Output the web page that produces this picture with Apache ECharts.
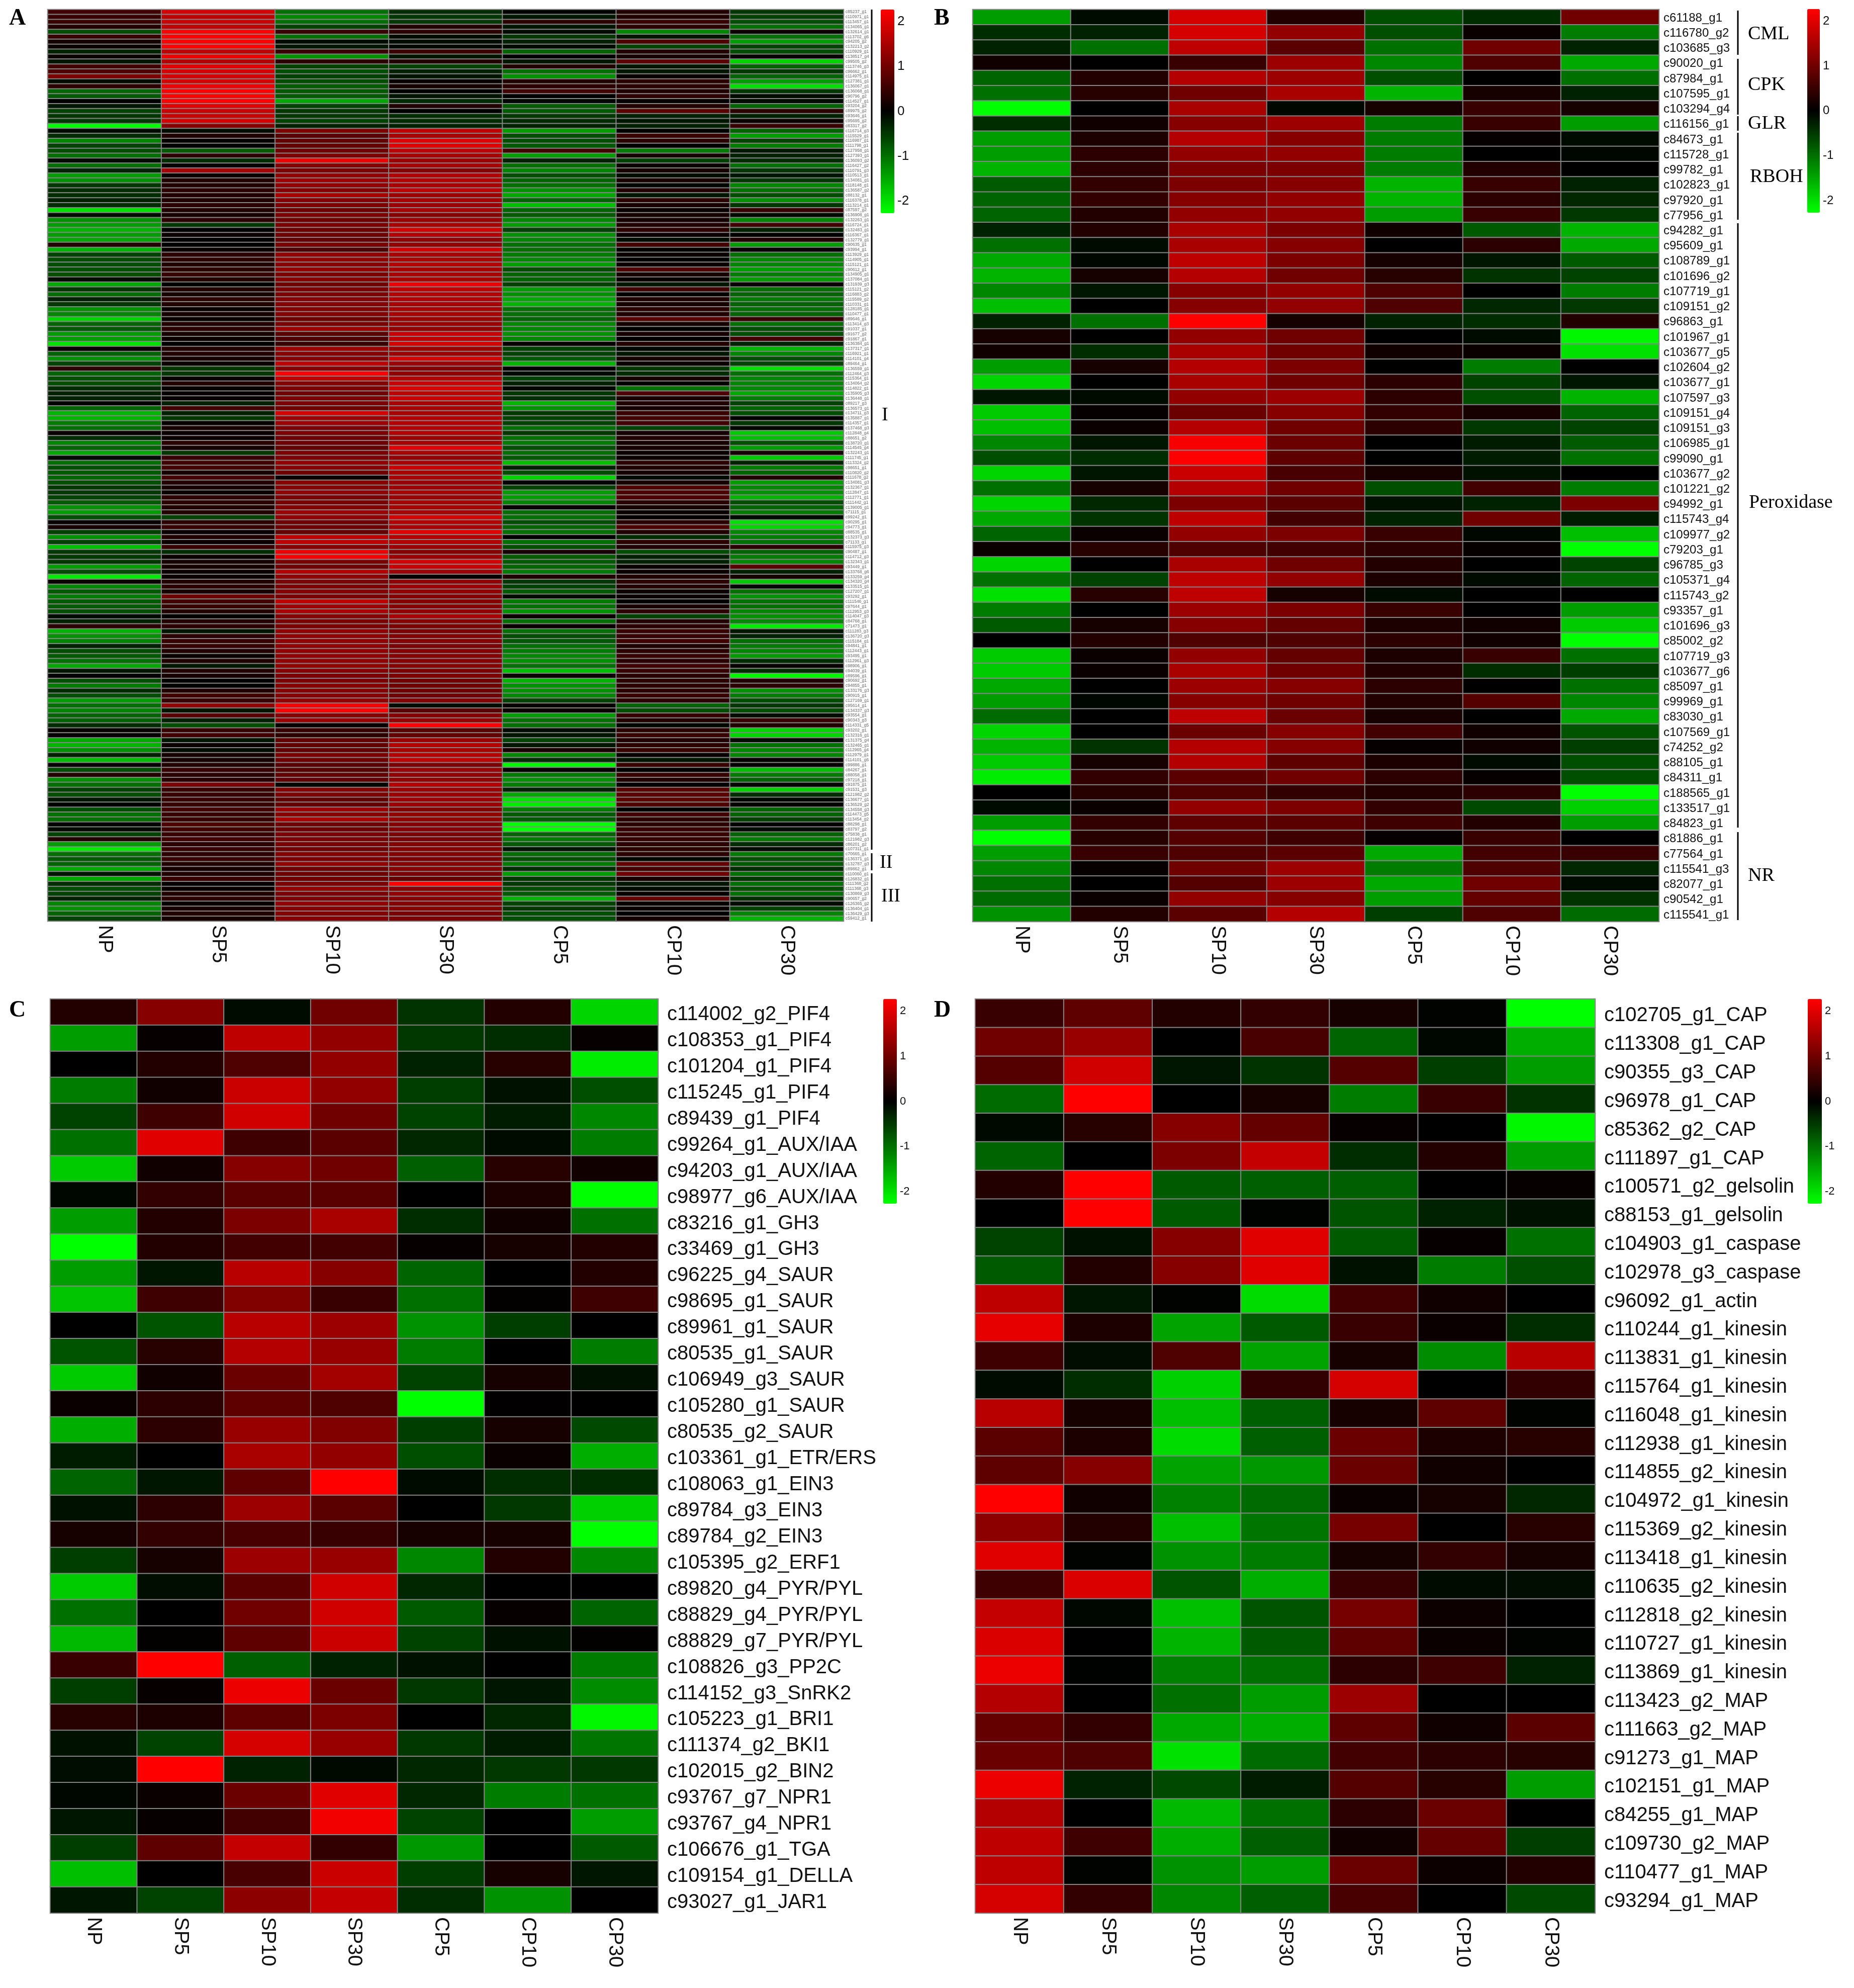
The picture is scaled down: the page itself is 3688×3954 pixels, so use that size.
<!DOCTYPE html>
<html><head><meta charset="utf-8"><style>html,body{margin:0;padding:0;background:#fff}#c{width:3688px;height:3954px}</style>
<script src="https://cdn.jsdelivr.net/npm/echarts@6/dist/echarts.min.js"></script></head>
<body><div id="c"></div><script>
const samples=['NP','SP5','SP10','SP30','CP5','CP10','CP30'];
const colorTicks=[-2,-1,0,1,2];
const genesA=['c85237_g1','c110971_g1','c113457_g1','c134065_g1','c132614_g1','c113702_g6','c94205_g2','c132213_g2','c110929_g1','c138517_g4',
'c99505_g2','c113746_g3','c96662_g1','c114975_g1','c127381_g1','c136067_g1','c136068_g1','c90796_g2','c114527_g1','c93204_g2',
'c89975_g2','c93646_g1','c95695_g2','c83317_g2','c116714_g3','c115529_g1','c116987_g1','c111798_g1','c127958_g1','c127393_g1',
'c136093_g2','c116427_g2','c110791_g3','c110513_g1','c134081_g1','c118148_g1','c136587_g2','c88132_g1','c116378_g1','c113214_g1',
'c87597_g2','c136908_g1','c132263_g1','c116724_g1','c132483_g1','c116367_g1','c132779_g1','c90635_g1','c93994_g1','c113929_g1',
'c114905_g1','c115121_g1','c90612_g1','c134905_g1','c137084_g1','c131939_g3','c115121_g2','c116883_g2','c115589_g2','c110331_g1',
'c128185_g1','c110477_g1','c89646_g1','c113414_g3','c91037_g1','c91677_g2','c91867_g1','c136384_g1','c137317_g1','c116921_g1',
'c114101_g4','c89464_g1','c136559_g1','c112464_g3','c115364_g1','c134064_g2','c114822_g1','c135905_g3','c136448_g1','c89217_g3',
'c136573_g1','c134711_g3','c135887_g1','c114357_g1','c137468_g3','c112848_g4','c88651_g2','c138720_g1','c114545_g4','c132243_g1',
'c111745_g1','c113324_g2','c98651_g1','c110820_g2','c111678_g2','c134081_g3','c132367_g1','c112847_g1','c112771_g1','c111442_g1',
'c139005_g1','c71115_g1','c99242_g1','c90295_g1','c94773_g1','c88535_g1','c132373_g3','c71133_g1','c115975_g3','c90487_g1',
'c114712_g3','c132343_g1','c93449_g1','c133768_g6','c133259_g4','c134320_g4','c133515_g1','c127207_g1','c93292_g1','c111546_g1',
'c97644_g1','c112953_g3','c114047_g3','c84768_g1','c71473_g1','c111283_g3','c136720_g3','c115184_g1','c94841_g1','c112443_g1',
'c93495_g1','c112961_g3','c98906_g1','c94039_g1','c89596_g1','c90692_g1','c94855_g1','c133176_g3','c90915_g1','c127169_g1',
'c95614_g1','c134337_g3','c93554_g1','c90343_g3','c114331_g5','c93202_g1','c132316_g1','c131375_g4','c132465_g1','c112965_g4',
'c112979_g1','c114101_g6','c99886_g1','c84267_g1','c88058_g1','c97218_g1','c91875_g1','c91531_g3','c121982_g2','c136677_g1',
'c136529_g2','c134558_g3','c114473_g5','c113454_g2','c88298_g1','c83797_g2','c75838_g1','c121982_g3','c86201_g2','c107311_g1',
'c70665_g1','c136371_g1','c132787_g3','c89862_g1','c110060_g1','c126832_g1','c111368_g2','c111368_g3','c130869_g3','c90657_g2',
'c126365_g2','c136404_g1','c136429_g3','c59412_g1'];
const genesB=['c61188_g1','c116780_g2','c103685_g3','c90020_g1','c87984_g1','c107595_g1','c103294_g4','c116156_g1','c84673_g1','c115728_g1','c99782_g1','c102823_g1','c97920_g1','c77956_g1','c94282_g1','c95609_g1','c108789_g1','c101696_g2','c107719_g1','c109151_g2','c96863_g1','c101967_g1','c103677_g5','c102604_g2','c103677_g1','c107597_g3','c109151_g4','c109151_g3','c106985_g1','c99090_g1','c103677_g2','c101221_g2','c94992_g1','c115743_g4','c109977_g2','c79203_g1','c96785_g3','c105371_g4','c115743_g2','c93357_g1','c101696_g3','c85002_g2','c107719_g3','c103677_g6','c85097_g1','c99969_g1','c83030_g1','c107569_g1','c74252_g2','c88105_g1','c84311_g1','c188565_g1','c133517_g1','c84823_g1','c81886_g1','c77564_g1','c115541_g3','c82077_g1','c90542_g1','c115541_g1'];
const genesC=['c114002_g2_PIF4','c108353_g1_PIF4','c101204_g1_PIF4','c115245_g1_PIF4','c89439_g1_PIF4','c99264_g1_AUX/IAA','c94203_g1_AUX/IAA','c98977_g6_AUX/IAA','c83216_g1_GH3','c33469_g1_GH3','c96225_g4_SAUR','c98695_g1_SAUR','c89961_g1_SAUR','c80535_g1_SAUR','c106949_g3_SAUR','c105280_g1_SAUR','c80535_g2_SAUR','c103361_g1_ETR/ERS','c108063_g1_EIN3','c89784_g3_EIN3','c89784_g2_EIN3','c105395_g2_ERF1','c89820_g4_PYR/PYL','c88829_g4_PYR/PYL','c88829_g7_PYR/PYL','c108826_g3_PP2C','c114152_g3_SnRK2','c105223_g1_BRI1','c111374_g2_BKI1','c102015_g2_BIN2','c93767_g7_NPR1','c93767_g4_NPR1','c106676_g1_TGA','c109154_g1_DELLA','c93027_g1_JAR1'];
const genesD=['c102705_g1_CAP','c113308_g1_CAP','c90355_g3_CAP','c96978_g1_CAP','c85362_g2_CAP','c111897_g1_CAP','c100571_g2_gelsolin','c88153_g1_gelsolin','c104903_g1_caspase','c102978_g3_caspase','c96092_g1_actin','c110244_g1_kinesin','c113831_g1_kinesin','c115764_g1_kinesin','c116048_g1_kinesin','c112938_g1_kinesin','c114855_g2_kinesin','c104972_g1_kinesin','c115369_g2_kinesin','c113418_g1_kinesin','c110635_g2_kinesin','c112818_g2_kinesin','c110727_g1_kinesin','c113869_g1_kinesin','c113423_g2_MAP','c111663_g2_MAP','c91273_g1_MAP','c102151_g1_MAP','c84255_g1_MAP','c109730_g2_MAP','c110477_g1_MAP','c93294_g1_MAP'];
const valuesA=[[.6,1.9,-1,-.4,0,.3,-.5],[.5,1.7,-1.2,-.5,-.2,.3,-.6],[.5,1.8,-1,-.5,.4,.5,-.7],[.3,1.7,-.6,.3,-.2,.4,-1],[-.7,2.27,.5,.4,-.1,-1.2,.1],[.5,2.27,-1,-.1,-.5,-.2,-1],[.2,2.27,-.1,-.1,-.3,.7,-1.4],[.1,2.27,-.2,-.05,-.1,-.6,-.6],[-.3,1.7,.5,.5,-.9,.3,-.7],[.1,2.1,-1.3,-.2,0,.2,.05],
[-.2,1.6,.4,.3,-.2,.8,-1.9],[.6,2,-.6,-.6,.3,-.2,-.9],[.7,1.9,-.7,-.3,-1,-.2,-.5],[1.1,1.9,-.6,-.2,-1.3,.1,-.9],[-.1,1.9,-.7,.05,.3,.4,-1.4],[.4,2.1,-.8,.2,.4,.4,-2],[-.9,2.27,-.8,0,.6,.3,-.5],[-.8,2.27,-.8,-.2,0,.4,-.1],[0,2.27,-1.5,-.4,-.05,.05,-.1],[-.2,2,-.6,.3,-.8,.3,-.9],
[-.6,1.8,-.5,0,-.8,.8,.4],[-.5,1.8,-.5,-.4,-.5,-.3,-.3],[-.5,1.9,-.6,-.4,-.4,-.2,.1],[-2.27,1.2,-.3,-.3,-.3,-.3,.5],[-.1,-.1,1.1,1.7,-1.4,0,-.9],[-.4,.3,.8,1.5,-.7,.5,-1.4],[-1.2,.05,.9,2,-.7,.4,-.6],[-.6,0,.9,2,-.8,0,-1.1],[-.7,-.8,1,1.7,.6,-1.1,-.2],[-1,.4,1.1,1.5,-1.4,.2,-.3],
[-.1,-.4,2.1,1.4,-.3,-.6,-.4],[-1,.05,1.2,1.5,-1,.1,-1],[-.3,1.5,1.1,1.2,-1.2,.2,-.5],[-1.4,.1,1.3,1.6,-.7,-.1,-.2],[-1.3,.3,1.4,1.6,-.9,.2,-.5],[-.5,.3,1.3,1.5,-1,-.05,-1.2],[-.4,.4,1.2,1.7,-1.3,.3,-1],[-.4,.3,1.5,1.4,-1.5,-.2,-.7],[-.3,.3,1.2,1.5,-.9,.4,-1.3],[-.4,.4,1.1,1.4,-1.7,.2,-.5],
[-2,.3,1,1.5,-.9,.1,.5],[-.1,.2,1.1,1.2,-.8,.2,-.1],[-1.3,.4,1,1.4,-1.2,.2,-1.2],[-1.4,-.5,1.1,1.5,-1.4,.3,.6],[-1.6,0,1,1.9,-.6,.4,-.3],[-1.4,.1,1,1.6,-1.3,.1,0],[-1.5,0,.9,1.3,-1.2,-.1,.3],[.3,0,1.1,1.3,-1,.6,-1.4],[-1.6,.1,.7,1.9,-1,0,.05],[-.6,.4,1.3,1.5,-1.1,.1,-1],
[-.7,.4,1.3,1.5,-1.2,0,-1.2],[-.7,.3,1.2,1.6,-1.4,.1,-1.2],[-.7,.4,1.3,1.5,-.7,.7,-1.4],[-.7,.5,1.1,1.5,-.9,.2,-1.1],[-.1,.3,1.2,1.5,-.9,.1,-1.4],[-1.5,0,1,2.1,-.6,-.2,.05],[-.5,.3,1.1,1.7,-1.4,.6,-1],[-1,.2,1.1,1.6,-1.3,0,-.9],[-.3,.4,1.2,1.6,-1.5,.3,-1.1],[-.5,.3,1.2,1.5,-1.6,.2,-.9],
[-1.3,.1,1.2,1.5,-1,.4,-1],[-1.2,.2,1.2,1.5,-1,.3,-.9],[-1.9,.1,1,1.4,-.9,.8,.5],[-.9,.3,1.1,1.4,-1.2,.2,-1],[-.8,.4,1.4,1.3,-1.2,0,-.7],[-1.4,.2,.8,1.8,-1.3,.2,-.7],[-1.4,.1,.7,1.7,-1.2,0,.6],[-2,0,.5,1.9,.05,.3,-.3],[.05,.3,1.4,1.4,-.6,-.05,-1.6],[-.9,.3,1.2,1.4,-.6,-.2,-1.2],
[-1.3,.2,1.2,1.9,-.8,.2,-.7],[-.6,.1,1.7,1.4,-1.6,.1,-.6],[.4,-.5,1.2,1.2,0,-.5,-2],[-.9,-.5,2.27,1.3,-.1,-.4,-1],[-.7,.05,1.7,1.6,-.6,.2,-1.2],[-.7,.3,1.2,1.8,-.3,0,-1.2],[-.4,.05,1.1,1.95,-.05,-1,-1.2],[-.3,.05,1,1.7,-.5,.7,-1.5],[-.3,.05,1.1,1.8,-.4,.2,-1.1],[0,-.3,1.1,1.5,-1.6,.3,-.6],
[-.9,.6,1,1.5,-1.3,.2,-.9],[-1.6,-.3,1.9,1.5,-.5,.5,-.7],[-1.6,-.5,1.4,1.6,-.6,.6,0],[-1.1,.05,1.4,1.6,-.6,.6,-.5],[-1,.2,1.1,1.6,-1,-.6,-.05],[.1,.1,1.1,1.6,-.5,.2,-1.8],[-.4,.1,1,1.4,-1,.3,-1.7],[-1.2,.4,1,1.5,-1.1,.2,-.7],[-.9,.2,.9,2,-.7,.2,-1.4],[-1.5,-.5,1.1,1.5,-1,.1,.2],
[-.1,.5,1.1,1.3,-.8,.1,-1.8],[-1,.6,1.3,1.5,-1.7,.4,-.3],[-.7,.6,1.2,1.8,-.3,.3,-1.1],[-.8,.2,1,1.5,-.7,.2,-.9],[-.9,.6,.1,1.5,-1.9,-.1,.3],[-.7,.3,1.2,1.4,0,.2,-1.4],[-.5,.2,1.2,1.4,-.6,.7,-1.2],[-.5,.1,1.3,1.5,-1.4,.7,-1.3],[-.6,.4,1.1,1.4,-1.4,.7,-1.6],[-.8,.4,1.1,1.5,-1.2,.4,-.7],
[-1.3,.3,1.2,1.5,.05,.2,-.9],[-1.4,.3,1.4,1.5,-1,.1,-1.1],[-.7,-.6,1.3,1.9,-1,.05,-.1],[.05,.4,1,1.6,-.7,.4,-2],[.2,.5,1,1.5,-.9,.7,-1.9],[-.6,.1,.9,2,-1,.3,-1.2],[-1.3,.3,1.7,1.6,0,-.4,-1.1],[-.6,.1,1.7,1.6,-1,.4,-1],[-1.7,.5,1.2,1.4,-.7,.3,.4],[-.5,-.4,2.1,1.2,.2,-.7,-.9],
[-.5,.1,2.2,1.4,-.8,-.3,-1.1],[-.5,.2,1.1,1.9,-.8,-.3,-1.2],[-1.4,.2,1,1.8,-.9,.1,.8],[-.7,.1,1.6,1.4,-1.1,.1,-.3],[-2.1,.1,1.3,.05,.3,.3,.2],[.1,.3,1.1,1.3,-.5,.4,-1.8],[-1.2,.4,1.1,1.4,-.6,.3,-.05],[-.8,.2,1.2,1.3,-.8,.1,-1],[-1.1,1,1.1,1.2,-.1,.1,-1.3],[-.8,.6,1.7,1.2,-1.1,0,-1],
[-.8,.5,1.4,1.2,-1,.2,-1],[-.7,.3,1.5,1.3,-1.3,.4,-1.2],[-.1,0,1.2,1.5,.1,-.6,-1.3],[-.3,.3,1.1,1.2,-1,.3,-1.2],[.4,.4,1.1,1.1,.1,.4,-2.1],[-1.6,-.2,1.3,1.1,-1,.5,-.2],[-1.3,.4,1.3,1.2,-.7,.5,-.3],[-1.2,.5,1.3,1.2,-.8,.6,-1],[-.3,.5,1.3,1.1,-1,.3,-1.1],[-.7,.3,1.3,1.2,-1.1,.4,-1.2],
[-.8,.1,1.3,1.2,-1.2,.5,-1.4],[-1,.3,1.3,1.2,-1.3,.4,-.4],[-1.5,-.2,1.3,1.2,-1,.6,.05],[-.2,.3,1.2,1.1,-1.7,.5,-.4],[0,.2,1.1,1.1,.1,.4,-2.2],[-.7,0,1.1,1,-1.6,.4,.3],[-1.1,0,1.2,1,-1.3,.4,.4],[-.4,.3,1.2,1,-1.3,.4,-1.3],[-.7,.6,1.2,1,-1.2,.5,-1.1],[-1.4,.5,1.3,1.2,-.6,.4,-.7],
[-1,1.3,2.2,-.1,.05,-.9,-.5],[-1.2,-.2,2.27,.8,.1,-.7,-.7],[-.9,.8,1.2,1.2,-1.4,.5,-.1],[-.9,-.3,1.4,1.3,-1,.3,.5],[-.4,-.7,.05,2.27,-1,-.05,.3],[.05,.5,.5,.8,-.1,.4,-1.9],[.05,.6,.4,.9,-.2,.5,-1.9],[-1.5,-.2,.9,1.4,-.6,.3,-.1],[-1.6,.1,.9,1.6,-.2,.4,-1],[-1.3,-.1,.9,1.5,.2,.5,-1.2],
[-.3,.2,1.1,1.6,-1.2,.05,-1.2],[-1.7,.2,1,1.7,-.4,-.2,.05],[.05,.3,.8,1.1,-2.2,.5,.05],[-.7,.5,.8,1.4,.05,0,-1.7],[.3,.4,.9,1.3,-1.1,.5,-1.1],[-1.3,.4,.9,1.3,-1.3,.3,-.9],[-1,1.1,-.05,1.6,-1.1,.02,-.05],[-.6,.5,1.2,1.4,-.3,.8,-1.9],[-.7,.5,1.1,1.4,-1.5,.8,-.4],[-.2,.5,.9,1.4,-2,.8,-.05],
[0,.5,.9,1.4,-2.1,.7,0],[-.7,.6,1.4,1.2,-1.1,0,-.9],[-1,.5,1.2,1.3,-.8,.6,-.9],[-1,.5,1.5,1.3,-.8,.4,-.6],[0,.7,1,1.2,-2.27,.4,0],[-.1,.6,1,1.2,-2.27,.5,-.1],[-.6,.5,1.1,1.1,-.9,.5,-.9],[.3,.6,1.1,1.1,-1.1,.5,-1.1],[-1.4,.4,1.1,1.2,-.8,.4,-.4],[-2.1,.5,1,1.2,-.2,.4,-.1],
[-1,.4,1.2,1.2,-1,.4,-1.1],[-.8,.5,1.1,1.1,-.7,-.05,-.7],[-.9,.3,1.3,1.2,-1.1,.9,-.8],[-1.5,.2,1,1.2,-.4,.6,-.4],[-.2,.3,1,1.1,-1.4,1,-1],[-1.5,.5,1,.9,-.5,.2,-.5],[-.4,.05,1.1,2.27,-.5,-.2,-1],[-.7,.1,1.3,1.2,-.7,-.1,-.7],[-.6,.3,1.1,1.3,-.8,.05,-1],[-.3,.4,1.1,1.2,-1.6,.9,-.4],
[-1.2,.05,1.3,1.2,-.6,.05,-.1],[-1.3,.2,1.2,1.2,-.5,.1,-.6],[-.9,.3,1.2,1.1,-.7,0,-1.2],[-.6,.2,1.2,1.1,-.7,.2,-1.6]];
const valuesB=[[-1.4,-.1,1.9,.3,-.7,-.4,1],[-.4,-.3,1.9,1.3,-.7,.1,-1.1],[-.3,-1,1.7,.8,-1,1,-.3],[.15,0,.5,1.4,-1.2,.7,-1.5],[-.9,.3,1.6,1.4,-.7,0,-1],[-1,.35,1,1.5,-1.6,.2,-.3],[-2.27,0,1.5,-.05,.2,.5,.2],[-.4,.15,1.2,1.4,-1.1,.5,-1.4],[-1.4,.25,1.6,1.2,-1.1,.05,-.1],[-1.4,.4,1.3,1.3,-1.1,0,-.05],
[-1.6,.4,1.1,1.1,-1.1,.3,0],[-.8,.45,1.1,1.2,-1.6,.5,-.3],[-.9,.45,1.2,1.3,-1.6,.4,-.35],[-.9,.3,1.3,1.3,-1.4,.5,-.5],[-.3,.3,1.5,1.1,.15,-.8,-1.6],[-1,-.1,1.5,1.2,0,.4,-1.5],[-1.5,-.05,1.7,1.1,.2,-.2,-.8],[-1.6,.2,1.6,1,.35,-.45,-.6],[-1.2,-.2,1.2,1.3,.7,0,-1.1],[-1.7,0,1.2,1.3,.7,-.35,-.5],
[-.3,-1,2.27,.2,-.3,-.4,.3],[.2,0,1.3,1,0,-.1,-2.2],[.15,-.4,1.5,1,.15,.1,-2],[-1.4,.2,1.6,1.1,0,-1.1,0],[-1.9,0,1.5,1,.4,-.6,-.2],[-.2,-.1,1.3,1.4,.4,-.7,-1.6],[-1.8,.05,.95,1.2,.45,.2,-.9],[-1.7,.1,1.6,1,.4,-.5,-.6],[-1.2,-.2,2.2,.95,0,-.25,-.8],[-.7,-.4,2.27,.85,0,-.25,-1],
[-1.9,-.2,1.8,.65,.2,-.15,0],[-1,.2,1.6,1,-.7,.6,-1.1],[-1.9,-.35,1.1,.8,-.15,-.3,1.1],[-1.5,-.45,1.7,.6,-.3,1,-.25],[-.9,.1,1.3,1.1,.5,-.05,-1.7],[.1,.35,.7,.6,.4,.05,-2.27],[-1.9,0,1.5,1,.3,0,-.6],[-1,-.6,1.7,1.3,.25,-.1,-.9],[-2,.35,1.7,.2,-.1,0,0],[-1.1,0,1.4,1.1,.5,0,-1.4],
[-.8,.2,1.2,.9,.25,.15,-1.8],[0,.3,.7,.7,.4,.15,-2.27],[-1.8,.1,1.3,.9,.25,.5,-1],[-1.8,.1,1.5,1,.3,-.4,-.55],[-1.5,0,1.4,1.2,.4,0,-1],[-1.4,-.05,1.2,1,.3,.75,-1.2],[-.95,0,1.7,.95,.2,0,-1.5],[-1.9,0,.95,1.2,.6,.15,-.75],[-1.6,-.45,1.6,1.2,.05,.15,-.55],[-1.8,.2,1.6,.85,.25,-.1,-.7],
[-2.1,.45,.8,1,.4,.05,-.7],[0,.35,.7,.45,.3,.4,-2.27],[-.1,.1,1.3,1.1,.45,-.65,-1.85],[-1.4,.45,.85,.8,.55,.3,-1.4],[-2.27,.35,.75,.55,.05,.5,0],[-1.4,.5,.7,.8,-1.5,.6,.5],[-1.2,.05,1,1.4,-1.1,.7,-.35],[-1,0,.75,1.4,-1.5,1,-.1],[-.95,.1,1.3,1.2,-1.4,.9,-.45],[-1.3,.3,.8,1.6,-.55,.7,-.95]];
const valuesC=[[.3,1.2,-.1,1,-.45,.3,-1.9],[-1.4,.05,1.7,1.3,-.5,-.4,.05],[0,.3,.7,1.3,-.3,.35,-2.1],[-1.1,.15,1.8,1.3,-.55,-.15,-.7],[-.6,.55,1.85,1,-.6,-.25,-1.2],[-1,2,.55,.8,-.35,-.1,-1.1],[-1.8,.15,1.2,1,-.85,.35,.15],[-.05,.45,.8,.8,0,.25,-2.27],[-1.4,.3,1.1,1.5,-.4,.15,-1],[-2.27,.3,.6,.6,.05,.2,.3],
[-1.4,-.2,1.65,1.2,-.9,0,.3],[-1.75,.55,1.15,.5,-1,.03,.55],[0,-.75,1.65,1.4,-1.3,-.55,0],[-.75,.35,1.6,1.35,-1.1,0,-1.1],[-1.8,.15,.95,1.45,-.6,.2,-.15],[.1,.4,.85,.7,-2.27,.02,0],[-1.55,.4,1.35,1.15,-.55,.2,-.65],[-.25,0,1.5,1.3,-.7,.1,-1.55],[-.9,-.2,.85,2.27,-.1,-.4,-.4],[-.15,.4,1.4,.8,0,-.5,-1.85],
[.2,.45,.65,.5,.2,.2,-2.27],[-.55,.2,1.4,1.35,-1.2,.3,-1.2],[-1.8,-.12,.8,1.85,-.35,0,0],[-1,0,1,1.85,-.8,.05,-.9],[-1.65,.03,.85,1.8,-.6,-.15,.03],[.5,2.27,-.85,-.3,-.15,0,-1.1],[-.55,.05,2.1,.95,-.5,-.2,-1.25],[.35,.25,.85,1.1,0,-.35,-2.2],[-.15,-.6,1.9,1.35,-.5,-.25,-1.05],[-.12,2.27,-.3,-.08,-.35,-.5,-.5],
[-.05,.1,.95,2,-.35,-1.1,-1],[-.2,.05,.6,2.15,-.6,0,-1.4],[-.55,.85,1.75,.45,-1.35,0,-.8],[-1.7,0,.65,1.8,-.55,.2,-.2],[-.2,-.6,1.25,1.75,-.4,-1.3,0]];
const valuesD=[[.5,.85,.3,.45,.2,-.03,-2.27],[1,1.35,0,.65,-.9,-.05,-1.55],[.75,1.85,-.2,-.45,.75,-.55,-1.4],[-.95,2.27,0,.2,-1.1,.5,-.45],[-.08,.35,1.2,.9,.05,0,-2.2],[-.9,0,1.1,1.75,-.4,.3,-1.4],[.3,2.27,-.8,-.85,-.85,0,.05],[0,2.27,-.8,-.03,-.75,-.3,-.15],[-.6,-.15,1.2,2,-.8,.05,-1],[-.8,.3,1.2,2,-.15,-1.1,-.7],
[1.7,-.2,-.03,-1.95,.6,.15,0],[2.05,.25,-1.45,-.8,.5,.1,-.4],[.55,-.12,.7,-1.45,.2,-1.25,1.65],[-.1,-.4,-1.85,.45,1.9,0,.45],[1.65,.2,-1.7,-.85,.2,.85,-.03],[.8,.25,-1.95,-.85,.95,.25,.35],[.85,1.2,-1.45,-1.35,.95,.15,0],[2.27,.15,-1.15,-.95,.1,.2,-.35],[1.25,.3,-1.7,-1.05,1.05,0,.35],[2,-.03,-1.3,-1.1,.2,.45,.2],
[.55,1.95,-.75,-1.55,.5,-.1,-.12],[1.75,-.05,-1.7,-.75,1.05,.12,0],[1.95,0,-1.6,-.8,.85,.1,-.03],[2.1,-.02,-1.15,-1,.4,.55,-.3],[1.6,0,-1,-1.4,1.4,0,0],[.9,.45,-1.5,-1.55,.85,.15,.8],[.95,.7,-2,-.95,.6,.4,.35],[2.1,-.3,-.65,-.25,.75,.35,-1.4],[1.6,0,-1.65,-1,.4,.95,0],[1.7,.55,-1.55,-.85,.15,.9,-.55],
[1.7,-.03,-1.3,-1.4,.95,.12,.3],[1.9,.45,-1.2,-.85,.65,0,-.65]];

const panels=[
 {rows:genesA,vals:valuesA,g:{left:95,top:19,width:1583,height:1813},lab:{fontSize:8.5,color:'#666',margin:4},bw:2,bar:{left:1752,top:19,w:27,h:405},barFont:26},
 {rows:genesB,vals:valuesB,g:{left:1935,top:19,width:1365,height:1814},lab:{fontSize:24,color:'#111',margin:9,verticalAlign:'top',lineHeight:4},bw:2,bar:{left:3595,top:18,w:25,h:405},barFont:24},
 {rows:genesC,vals:valuesC,g:{left:100,top:1987,width:1209,height:1818},lab:{fontSize:40,color:'#111',margin:18,verticalAlign:'top',lineHeight:10},bw:2,bar:{left:1757,top:1987,w:27,h:407},barFont:22},
 {rows:genesD,vals:valuesD,g:{left:1940,top:1987,width:1233,height:1818},lab:{fontSize:40,color:'#111',margin:18,verticalAlign:'top',lineHeight:10},bw:2,bar:{left:3596,top:1987,w:28,h:407},barFont:22}
];
const LIM=2.27, FF='"Liberation Sans",Arial,sans-serif', SERIF='"Liberation Serif","Times New Roman",serif';
const grid=[],xAxis=[],yAxis=[],series=[],visualMap=[];
panels.forEach((p,i)=>{
 grid.push(Object.assign({containLabel:false},p.g));
 xAxis.push({gridIndex:i,type:'category',data:samples,position:'bottom',axisLine:{show:false},axisTick:{show:false},splitLine:{show:false},
   axisLabel:{rotate:-90,interval:0,margin:8,fontSize:40,fontFamily:FF,color:'#111'}});
 yAxis.push({gridIndex:i,type:'category',data:p.rows,inverse:true,position:'right',axisLine:{show:false},axisTick:{show:false},splitLine:{show:false},
   axisLabel:Object.assign({interval:0,fontFamily:FF,align:'left'},p.lab)});
 const d=[];p.vals.forEach((r,y)=>r.forEach((v,x)=>d.push([x,y,v])));
 series.push({type:'heatmap',xAxisIndex:i,yAxisIndex:i,data:d,progressive:0,animation:false,
   itemStyle:{borderColor:'#858585',borderWidth:p.bw},emphasis:{disabled:true}});
 visualMap.push({type:'continuous',seriesIndex:i,dimension:2,min:-LIM,max:LIM,calculable:false,realtime:false,hoverLink:false,
   left:p.bar.left,top:p.bar.top,itemWidth:p.bar.w,itemHeight:p.bar.h,text:null,padding:0,
   inRange:{color:['#00ff00','#000000','#ff0000']}});
});
panels.forEach((p,i)=>{
 const k=panels.length+i;
 grid.push({left:p.bar.left,top:p.bar.top,width:p.bar.w,height:p.bar.h,containLabel:false});
 xAxis.push({gridIndex:k,type:'value',show:false,min:0,max:1});
 yAxis.push({gridIndex:k,type:'value',min:-LIM,max:LIM,position:'right',axisLine:{show:false},axisTick:{show:false},splitLine:{show:false},
   axisLabel:{customValues:colorTicks,margin:6,fontSize:p.barFont,fontFamily:FF,color:'#111',formatter:v=>String(v)}});
});
const line=(x,y1,y2,w)=>({type:'line',shape:{x1:x,y1:y1,x2:x,y2:y2},style:{stroke:'#000',lineWidth:w||3}});
const word=(t,x,y,s,o)=>({type:'text',x:x,y:y,style:Object.assign({text:t,fontFamily:SERIF,fontSize:s,fill:'#000',textVerticalAlign:'middle',verticalAlign:'middle'},o||{})});
const bold={fontWeight:'bold'};
const graphic=[
 word('A',18,37,46,bold),word('B',1858,37,46,bold),word('C',18,2010,46,bold),word('D',1858,2010,46,bold),
 line(1734,19,1690),line(1734,1697,1731),line(1734,1737,1833),
 word('I',1754,826,38),word('II',1750,1716,38),word('III',1753,1783,38),
 line(3457,21,109),line(3457,117,228),line(3457,231,260),line(3457,264,437),line(3457,444,1646),line(3457,1655,1830),
 word('CML',3477,68,38),word('CPK',3477,169,38),word('GLR',3477,246,38),word('RBOH',3481,352,38),word('Peroxidase',3479,1000,38),word('NR',3477,1742,38)
];
const chart=echarts.init(document.getElementById('c'),null,{width:3688,height:3954,renderer:'canvas'});
chart.setOption({animation:false,backgroundColor:'#fff',grid,xAxis,yAxis,series,visualMap,graphic:{elements:graphic}});
</script></body></html>
